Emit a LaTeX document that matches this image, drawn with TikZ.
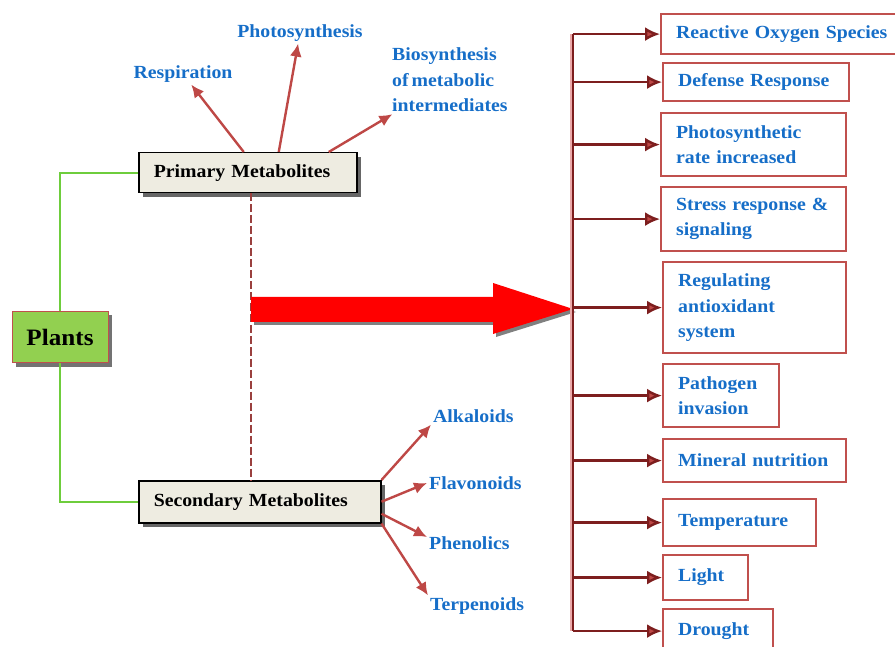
\documentclass[tikz,border=0pt]{standalone}
\usepackage{fontspec}
\setmainfont{Liberation Serif}[FakeStretch=1.07, WordSpace=0.6]
\usetikzlibrary{arrows.meta}
\usetikzlibrary{positioning}
\usetikzlibrary{shadows}
\definecolor{mred}{RGB}{192, 80, 77}
\definecolor{marrow}{RGB}{190, 72, 70}
\definecolor{mdark}{RGB}{125, 30, 30}
\definecolor{mpink}{RGB}{235, 170, 170}
\definecolor{mblue}{RGB}{22, 110, 200}
\definecolor{mgreen}{RGB}{110, 205, 60}
\definecolor{mleaf}{RGB}{146, 208, 80}
\definecolor{mbeige}{RGB}{238, 236, 225}
\newcommand{\boxfont}{\fontsize{18.5}{25.5}\selectfont\bfseries\hyphenpenalty=10000 \hbadness=10000 \hfuzz=20pt}
\tikzset{metabox/.style = {draw=black, line width=1.5pt, fill=mbeige, anchor=north west,
                           inner xsep=15pt, align=left, font=\boxfont,
                           drop shadow={shadow xshift=4pt, shadow yshift=-4pt,
                                        fill=black!60, opacity=1}}}
\tikzset{effectbox/.style = {draw=mred, line width=2.2pt, fill=white, anchor=north west,
                             inner xsep=15pt, align=left, text=mblue, font=\boxfont}}
\tikzset{lbl/.style = {text=mblue, font=\boxfont, align=left, inner sep=2pt}}
\tikzset{pointer/.style = {draw=marrow, line width=2.4pt, -{Latex[length=13pt, width=12pt]}}}
\tikzset{busarrow/.style = {draw=mdark, line width=2.4pt, -{Latex[length=15pt, width=14pt, fill=marrow]}}}
\tikzset{stem/.style = {draw=mgreen, line width=2pt}}

\begin{document}
\begin{tikzpicture}[x=1pt, y=-1pt]
    \useasboundingbox (0, 0) rectangle (895, 647);

    % left side
    \node [draw=mred, line width=1pt, fill=mleaf, minimum width=96pt, minimum height=51pt,
           font=\fontsize{23.5}{28}\selectfont\bfseries,
           drop shadow={shadow xshift=4pt, shadow yshift=-4pt, fill=black!55, opacity=1}]
          (plants) at (60, 337) {Plants};
    \node [metabox, text width=188pt, minimum height=40pt] (prim) at (138, 152) {Primary~Metabolites};
    \node [metabox, text width=212pt, minimum height=42pt] (sec) at (138, 480) {Secondary~Metabolites};

    \draw [stem] (plants.north) |- (prim.west);
    \draw [stem] (plants.south) |- (sec.west);

    \draw [mred!80!black, line width=2.2pt, dash pattern=on 8pt off 3pt] ([xshift=3pt]prim.south) -- ([xshift=3pt]prim.south |- sec.north);

    % primary products
    \node [lbl] (resp) at (183, 74) {Respiration};
    \node [lbl] (phot) at (300, 33) {Photosynthesis};
    \node [lbl, anchor=west] (bios) at (390, 80) {Biosynthesis\\of metabolic\\intermediates};

    \draw [pointer] ([xshift=-4pt]prim.north) -- (resp);
    \draw [pointer] ([xshift=31pt]prim.north) -- (phot);
    \draw [pointer] ([xshift=81pt]prim.north) -- (bios);

    % secondary products
    \node [lbl, anchor=west] (alka) at (431, 416) {Alkaloids};
    \node [lbl, anchor=west] (flav) at (427, 483) {Flavonoids};
    \node [lbl, anchor=west] (phen) at (427, 543) {Phenolics};
    \node [lbl, anchor=west] (terp) at (428, 606) {Terpenoids};

    \draw [pointer] (sec.north east) -- (alka.south west);
    \draw [pointer] (sec.east) -- (flav.west);
    \draw [pointer] ([yshift=-12pt]sec.east) -- ([yshift=6pt]phen.west);
    \draw [pointer] (sec.south east) -- (terp.north west);

    % big arrow
    \fill [black!50, shift={(3, 3)}] (251, 297) -- (493, 297) -- (493, 283) -- (573, 309)
          -- (493, 334) -- (493, 322) -- (251, 322) -- cycle;
    \fill [red] (251, 297) -- (493, 297) -- (493, 283) -- (573, 309)
          -- (493, 334) -- (493, 322) -- (251, 322) -- cycle;

    % effects
    \node [effectbox, text width=210pt, minimum height=40pt] (ros) at (660, 13) {Reactive~Oxygen~Species};
    \node [effectbox, text width=156pt, minimum height=38pt] (def) at (662, 62) {Defense~Response};
    \node [effectbox, text width=155pt, minimum height=63pt] (rate) at (660, 112) {Photosynthetic\\rate~increased};
    \node [effectbox, text width=155pt, minimum height=64pt] (stress) at (660, 186) {Stress~response~\&\\signaling};
    \node [effectbox, text width=153pt, minimum height=91pt] (antiox) at (662, 261) {Regulating\\antioxidant\\system};
    \node [effectbox, text width=86pt, minimum height=63pt] (path) at (662, 363) {Pathogen\\invasion};
    \node [effectbox, text width=153pt, minimum height=43pt] (mineral) at (662, 438) {Mineral~nutrition};
    \node [effectbox, text width=123pt, minimum height=47pt] (temp) at (662, 498) {Temperature};
    \node [effectbox, text width=55pt, minimum height=45pt] (light) at (662, 554) {Light};
    \node [effectbox, text width=80pt, minimum height=44pt] (drought) at (662, 608) {Drought};

    \coordinate (bus) at (573, 0);
    \draw [mpink, line width=1.2pt] ([xshift=-2pt]bus |- ros.west) -- ([xshift=-2pt]bus |- drought.west);
    \draw [mdark, line width=2.2pt] (bus |- ros.west) -- (bus |- drought.west);

    \draw [busarrow] (bus |- ros.west) -- (ros.west);
    \draw [busarrow] (bus |- def.west) -- (def.west);
    \draw [busarrow] (bus |- rate.west) -- (rate.west);
    \draw [busarrow] (bus |- stress.west) -- (stress.west);
    \draw [busarrow] (bus |- antiox.west) -- (antiox.west);
    \draw [busarrow] (bus |- path.west) -- (path.west);
    \draw [busarrow] (bus |- mineral.west) -- (mineral.west);
    \draw [busarrow] (bus |- temp.west) -- (temp.west);
    \draw [busarrow] (bus |- light.west) -- (light.west);
    \draw [busarrow] (bus |- drought.west) -- (drought.west);
  \end{tikzpicture}
\end{document}
